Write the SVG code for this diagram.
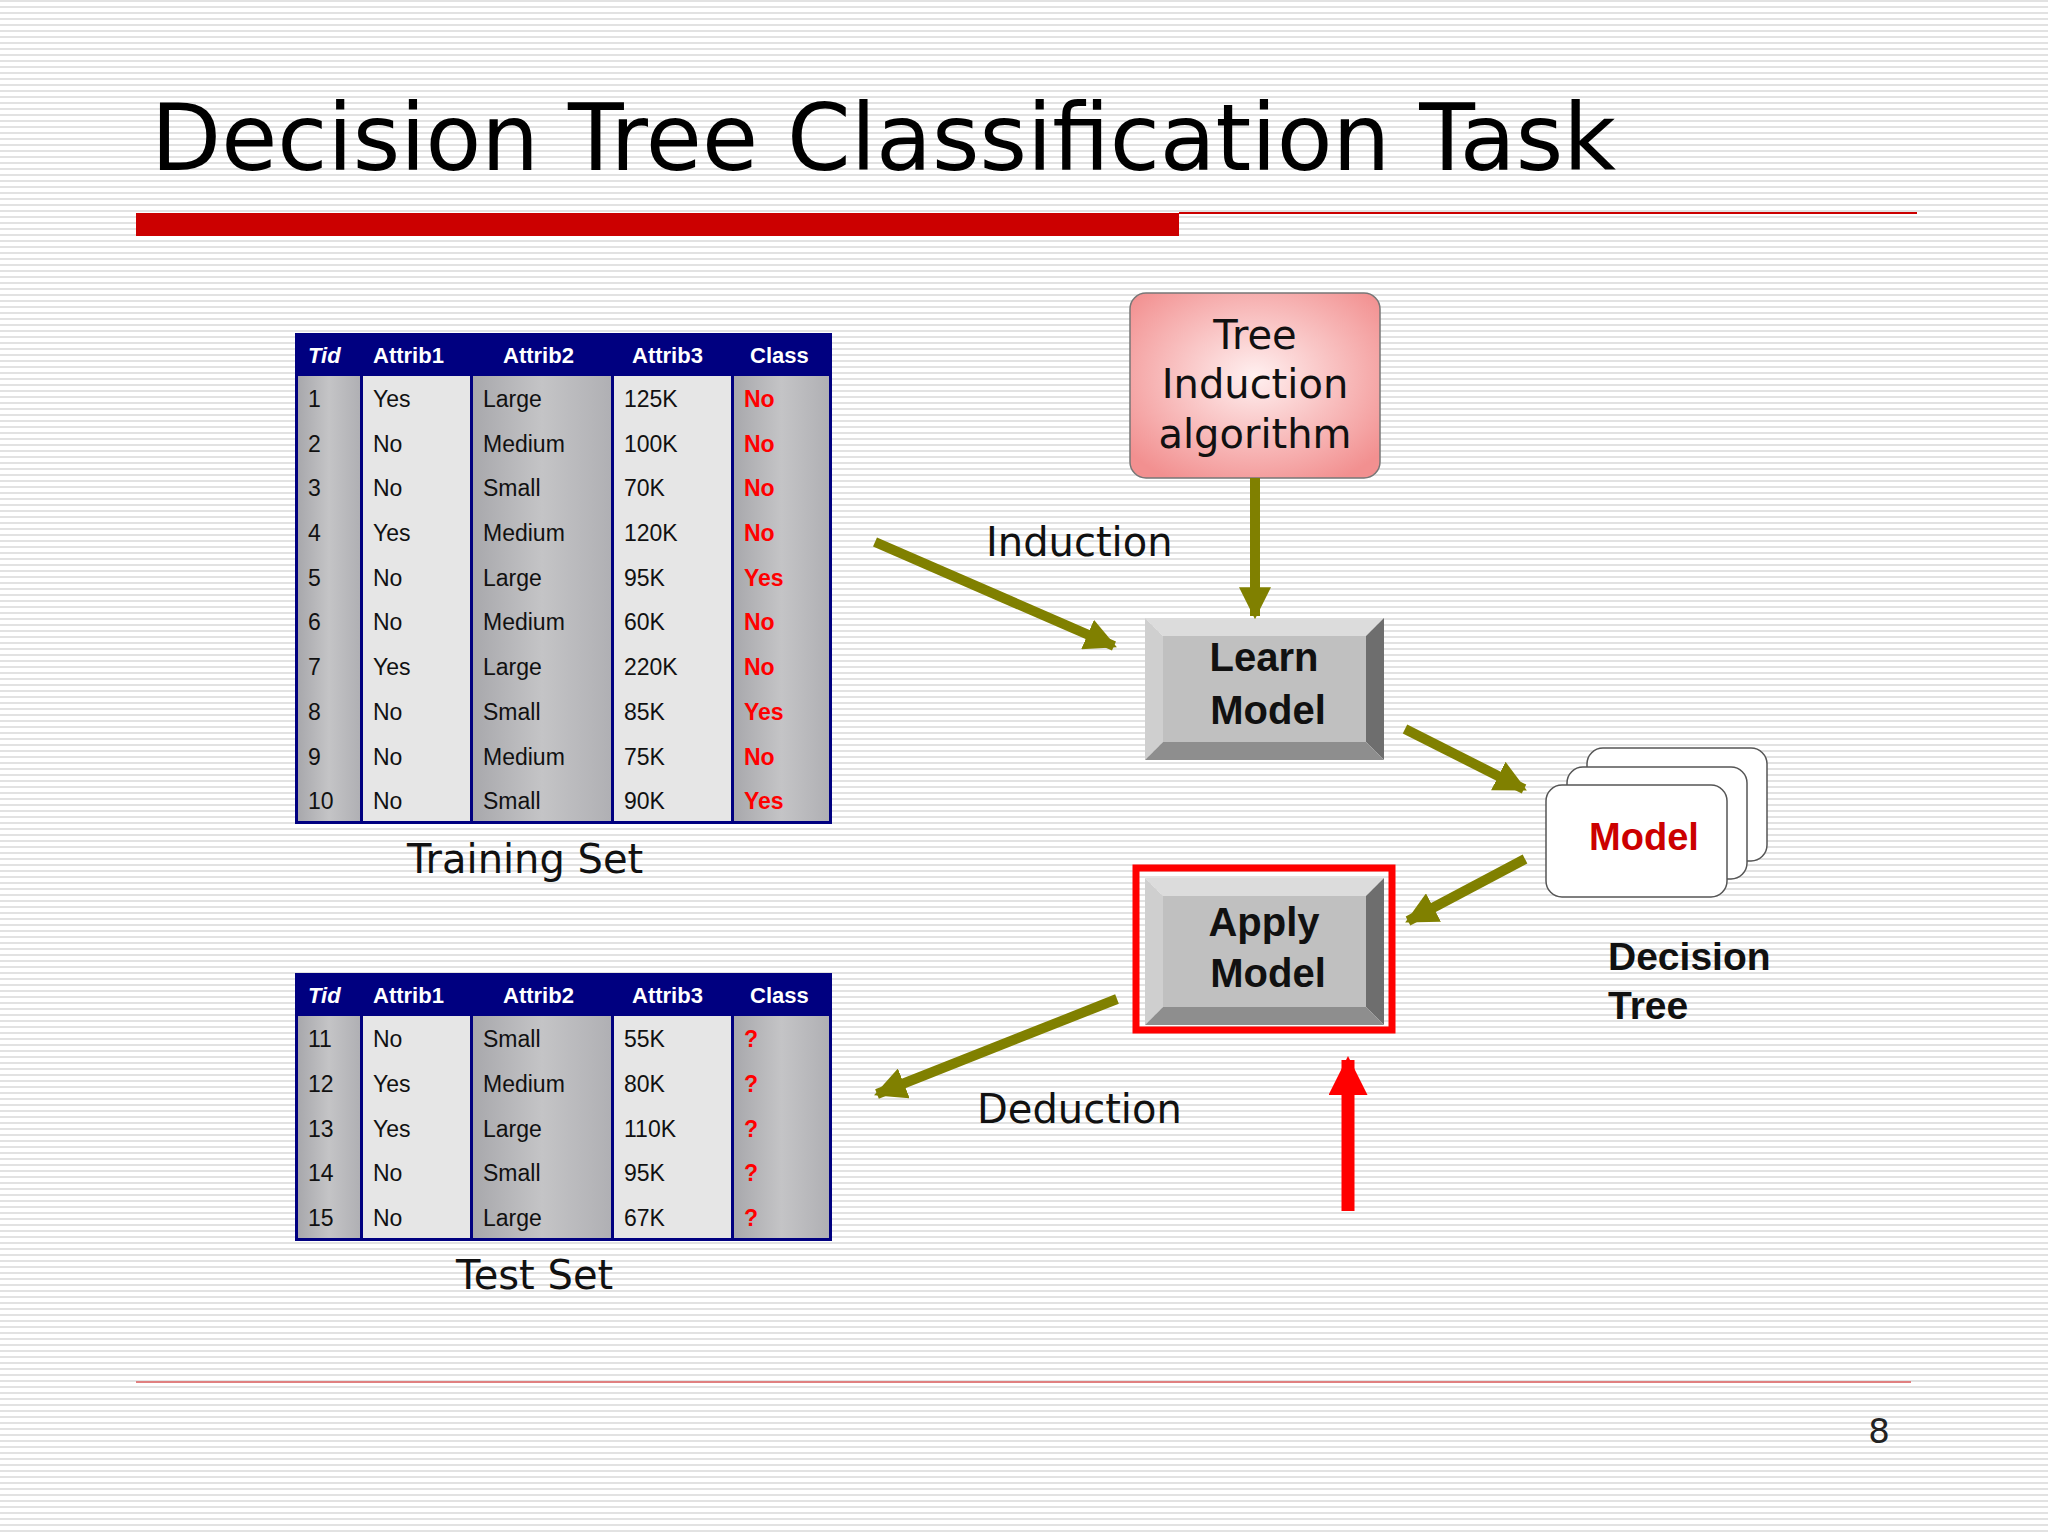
<svg xmlns="http://www.w3.org/2000/svg" width="2048" height="1536" viewBox="0 0 2048 1536">
<defs>
<pattern id="stripes" width="8" height="6" patternUnits="userSpaceOnUse"><rect width="8" height="6" fill="#ffffff"/><rect y="0" width="8" height="2" fill="#e2e2e2"/></pattern>
<radialGradient id="pink" cx="50%" cy="45%" r="65%"><stop offset="0" stop-color="#fff0f0"/><stop offset="1" stop-color="#f29090"/></radialGradient>
<linearGradient id="colDark" x1="0" x2="1"><stop offset="0" stop-color="#a8a8ac"/><stop offset="0.5" stop-color="#c4c4c6"/><stop offset="1" stop-color="#b0b0b4"/></linearGradient>
<marker id="olive" viewBox="0 0 10 10" refX="9" refY="5" markerWidth="3.2" markerHeight="3.2" orient="auto" markerUnits="strokeWidth"><path d="M0,0 L10,5 L0,10 z" fill="#808000"/></marker>
<marker id="red" viewBox="0 0 10 10" refX="9" refY="5" markerWidth="3.2" markerHeight="3" orient="auto" markerUnits="strokeWidth"><path d="M0,0 L10,5 L0,10 z" fill="#ff0000"/></marker>
<style>
.h{font-family:"Liberation Sans",Arial,sans-serif;font-weight:bold;font-size:22px;fill:#fff}
.d{font-family:"Liberation Sans",Arial,sans-serif;font-size:23px;fill:#111}
.c{font-family:"Liberation Sans",Arial,sans-serif;font-size:23px;font-weight:bold;fill:#ff0000}
.lab{font-family:"DejaVu Sans",Verdana,sans-serif;font-size:40px;fill:#111}
.btn{font-family:"Liberation Sans",Arial,sans-serif;font-weight:bold;font-size:40px;fill:#111;text-anchor:middle}
.dt{font-family:"Liberation Sans",Arial,sans-serif;font-weight:bold;font-size:39px;fill:#111}
.arr{stroke:#808000;stroke-width:10;fill:none;marker-end:url(#olive)}
</style>
</defs>
<rect width="2048" height="1536" fill="url(#stripes)"/>
<text x="151" y="170" font-family="DejaVu Sans,Verdana,sans-serif" font-size="92" fill="#000" textLength="1465" lengthAdjust="spacingAndGlyphs">Decision Tree Classification Task</text>
<rect x="136" y="213" width="1043" height="23" fill="#cc0000"/>
<line x1="1179" y1="213" x2="1917" y2="213" stroke="#cc0000" stroke-width="2"/>
<line x1="136" y1="1382" x2="1911" y2="1382" stroke="#e08080" stroke-width="2"/>
<text x="1879" y="1443" font-family="DejaVu Sans,sans-serif" font-size="34" fill="#222" text-anchor="middle">8</text>

<g id="training-set">
<rect x="295" y="333" width="537" height="491" fill="#000080"/>
<rect x="298" y="376" width="62" height="445" fill="url(#colDark)"/>
<rect x="363" y="376" width="107" height="445" fill="#e6e6e6"/>
<rect x="473" y="376" width="138" height="445" fill="url(#colDark)"/>
<rect x="614" y="376" width="117" height="445" fill="#e6e6e6"/>
<rect x="734" y="376" width="95" height="445" fill="url(#colDark)"/>
<text class="h" x="308" y="363" font-style="italic">Tid</text><text class="h" x="373" y="363">Attrib1</text><text class="h" x="503" y="363">Attrib2</text><text class="h" x="632" y="363">Attrib3</text><text class="h" x="750" y="363">Class</text>
<g class="d">
<text x="308" y="407">1</text><text x="373" y="407">Yes</text><text x="483" y="407">Large</text><text x="624" y="407">125K</text>
<text x="308" y="452">2</text><text x="373" y="452">No</text><text x="483" y="452">Medium</text><text x="624" y="452">100K</text>
<text x="308" y="496">3</text><text x="373" y="496">No</text><text x="483" y="496">Small</text><text x="624" y="496">70K</text>
<text x="308" y="541">4</text><text x="373" y="541">Yes</text><text x="483" y="541">Medium</text><text x="624" y="541">120K</text>
<text x="308" y="586">5</text><text x="373" y="586">No</text><text x="483" y="586">Large</text><text x="624" y="586">95K</text>
<text x="308" y="630">6</text><text x="373" y="630">No</text><text x="483" y="630">Medium</text><text x="624" y="630">60K</text>
<text x="308" y="675">7</text><text x="373" y="675">Yes</text><text x="483" y="675">Large</text><text x="624" y="675">220K</text>
<text x="308" y="720">8</text><text x="373" y="720">No</text><text x="483" y="720">Small</text><text x="624" y="720">85K</text>
<text x="308" y="765">9</text><text x="373" y="765">No</text><text x="483" y="765">Medium</text><text x="624" y="765">75K</text>
<text x="308" y="809">10</text><text x="373" y="809">No</text><text x="483" y="809">Small</text><text x="624" y="809">90K</text>
</g>
<g class="c">
<text x="744" y="407">No</text><text x="744" y="452">No</text><text x="744" y="496">No</text><text x="744" y="541">No</text><text x="744" y="586">Yes</text><text x="744" y="630">No</text><text x="744" y="675">No</text><text x="744" y="720">Yes</text><text x="744" y="765">No</text><text x="744" y="809">Yes</text>
</g>
<text class="lab" x="407" y="873">Training Set</text>
</g>

<g id="test-set">
<rect x="295" y="973" width="537" height="268" fill="#000080"/>
<rect x="298" y="1016" width="62" height="222" fill="url(#colDark)"/>
<rect x="363" y="1016" width="107" height="222" fill="#e6e6e6"/>
<rect x="473" y="1016" width="138" height="222" fill="url(#colDark)"/>
<rect x="614" y="1016" width="117" height="222" fill="#e6e6e6"/>
<rect x="734" y="1016" width="95" height="222" fill="url(#colDark)"/>
<text class="h" x="308" y="1003" font-style="italic">Tid</text><text class="h" x="373" y="1003">Attrib1</text><text class="h" x="503" y="1003">Attrib2</text><text class="h" x="632" y="1003">Attrib3</text><text class="h" x="750" y="1003">Class</text>
<g class="d">
<text x="308" y="1047">11</text><text x="373" y="1047">No</text><text x="483" y="1047">Small</text><text x="624" y="1047">55K</text>
<text x="308" y="1092">12</text><text x="373" y="1092">Yes</text><text x="483" y="1092">Medium</text><text x="624" y="1092">80K</text>
<text x="308" y="1137">13</text><text x="373" y="1137">Yes</text><text x="483" y="1137">Large</text><text x="624" y="1137">110K</text>
<text x="308" y="1181">14</text><text x="373" y="1181">No</text><text x="483" y="1181">Small</text><text x="624" y="1181">95K</text>
<text x="308" y="1226">15</text><text x="373" y="1226">No</text><text x="483" y="1226">Large</text><text x="624" y="1226">67K</text>
</g>
<g class="c"><text x="744" y="1047">?</text><text x="744" y="1092">?</text><text x="744" y="1137">?</text><text x="744" y="1181">?</text><text x="744" y="1226">?</text></g>
<text class="lab" x="456" y="1289">Test Set</text>
</g>

<g id="tree-induction">
<rect x="1130" y="293" width="250" height="185" rx="16" fill="url(#pink)" stroke="#777" stroke-width="1.5"/>
<text class="lab" text-anchor="middle" x="1255" y="349">Tree</text>
<text class="lab" text-anchor="middle" x="1255" y="398">Induction</text>
<text class="lab" text-anchor="middle" x="1255" y="448">algorithm</text>
</g>

<g id="learn-model">
<polygon points="1145,618 1384,618 1366,636 1163,636" fill="#dcdcdc"/>
<polygon points="1145,618 1163,636 1163,742 1145,760" fill="#cfcfcf"/>
<polygon points="1384,618 1384,760 1366,742 1366,636" fill="#6e6e6e"/>
<polygon points="1145,760 1384,760 1366,742 1163,742" fill="#8e8e8e"/>
<rect x="1163" y="636" width="203" height="106" fill="#c0c0c0"/>
<text class="btn" x="1264" y="671">Learn</text><text class="btn" x="1268" y="724">Model</text>
</g>

<g id="apply-model">
<rect x="1136" y="868" width="256" height="162" fill="none" stroke="#ff0000" stroke-width="7"/>
<polygon points="1145,878 1384,878 1366,896 1163,896" fill="#dcdcdc"/>
<polygon points="1145,878 1163,896 1163,1007 1145,1025" fill="#cfcfcf"/>
<polygon points="1384,878 1384,1025 1366,1007 1366,896" fill="#6e6e6e"/>
<polygon points="1145,1025 1384,1025 1366,1007 1163,1007" fill="#8e8e8e"/>
<rect x="1163" y="896" width="203" height="111" fill="#c0c0c0"/>
<text class="btn" x="1264" y="936">Apply</text><text class="btn" x="1268" y="987">Model</text>
</g>

<g id="model">
<rect x="1587" y="748" width="180" height="113" rx="16" fill="#fff" stroke="#555" stroke-width="1.5"/>
<rect x="1567" y="767" width="180" height="112" rx="16" fill="#fff" stroke="#555" stroke-width="1.5"/>
<rect x="1546" y="785" width="181" height="112" rx="16" fill="#fff" stroke="#555" stroke-width="1.5"/>
<text x="1644" y="850" font-family="Liberation Sans,Arial,sans-serif" font-weight="bold" font-size="38" fill="#cc0000" text-anchor="middle">Model</text>
<text class="dt" x="1608" y="970">Decision</text>
<text class="dt" x="1608" y="1019">Tree</text>
</g>

<g id="connectors">
<line class="arr" x1="1255" y1="478" x2="1255" y2="616"/>
<line class="arr" x1="875" y1="542" x2="1114" y2="646"/>
<line class="arr" x1="1405" y1="729" x2="1524" y2="789"/>
<line class="arr" x1="1525" y1="859" x2="1408" y2="921"/>
<line class="arr" x1="1117" y1="999" x2="877" y2="1094"/>
<line x1="1348" y1="1211" x2="1348" y2="1060" stroke="#ff0000" stroke-width="13" marker-end="url(#red)"/>
<text class="lab" x="986" y="556">Induction</text>
<text class="lab" x="977" y="1123">Deduction</text>
</g>
</svg>
